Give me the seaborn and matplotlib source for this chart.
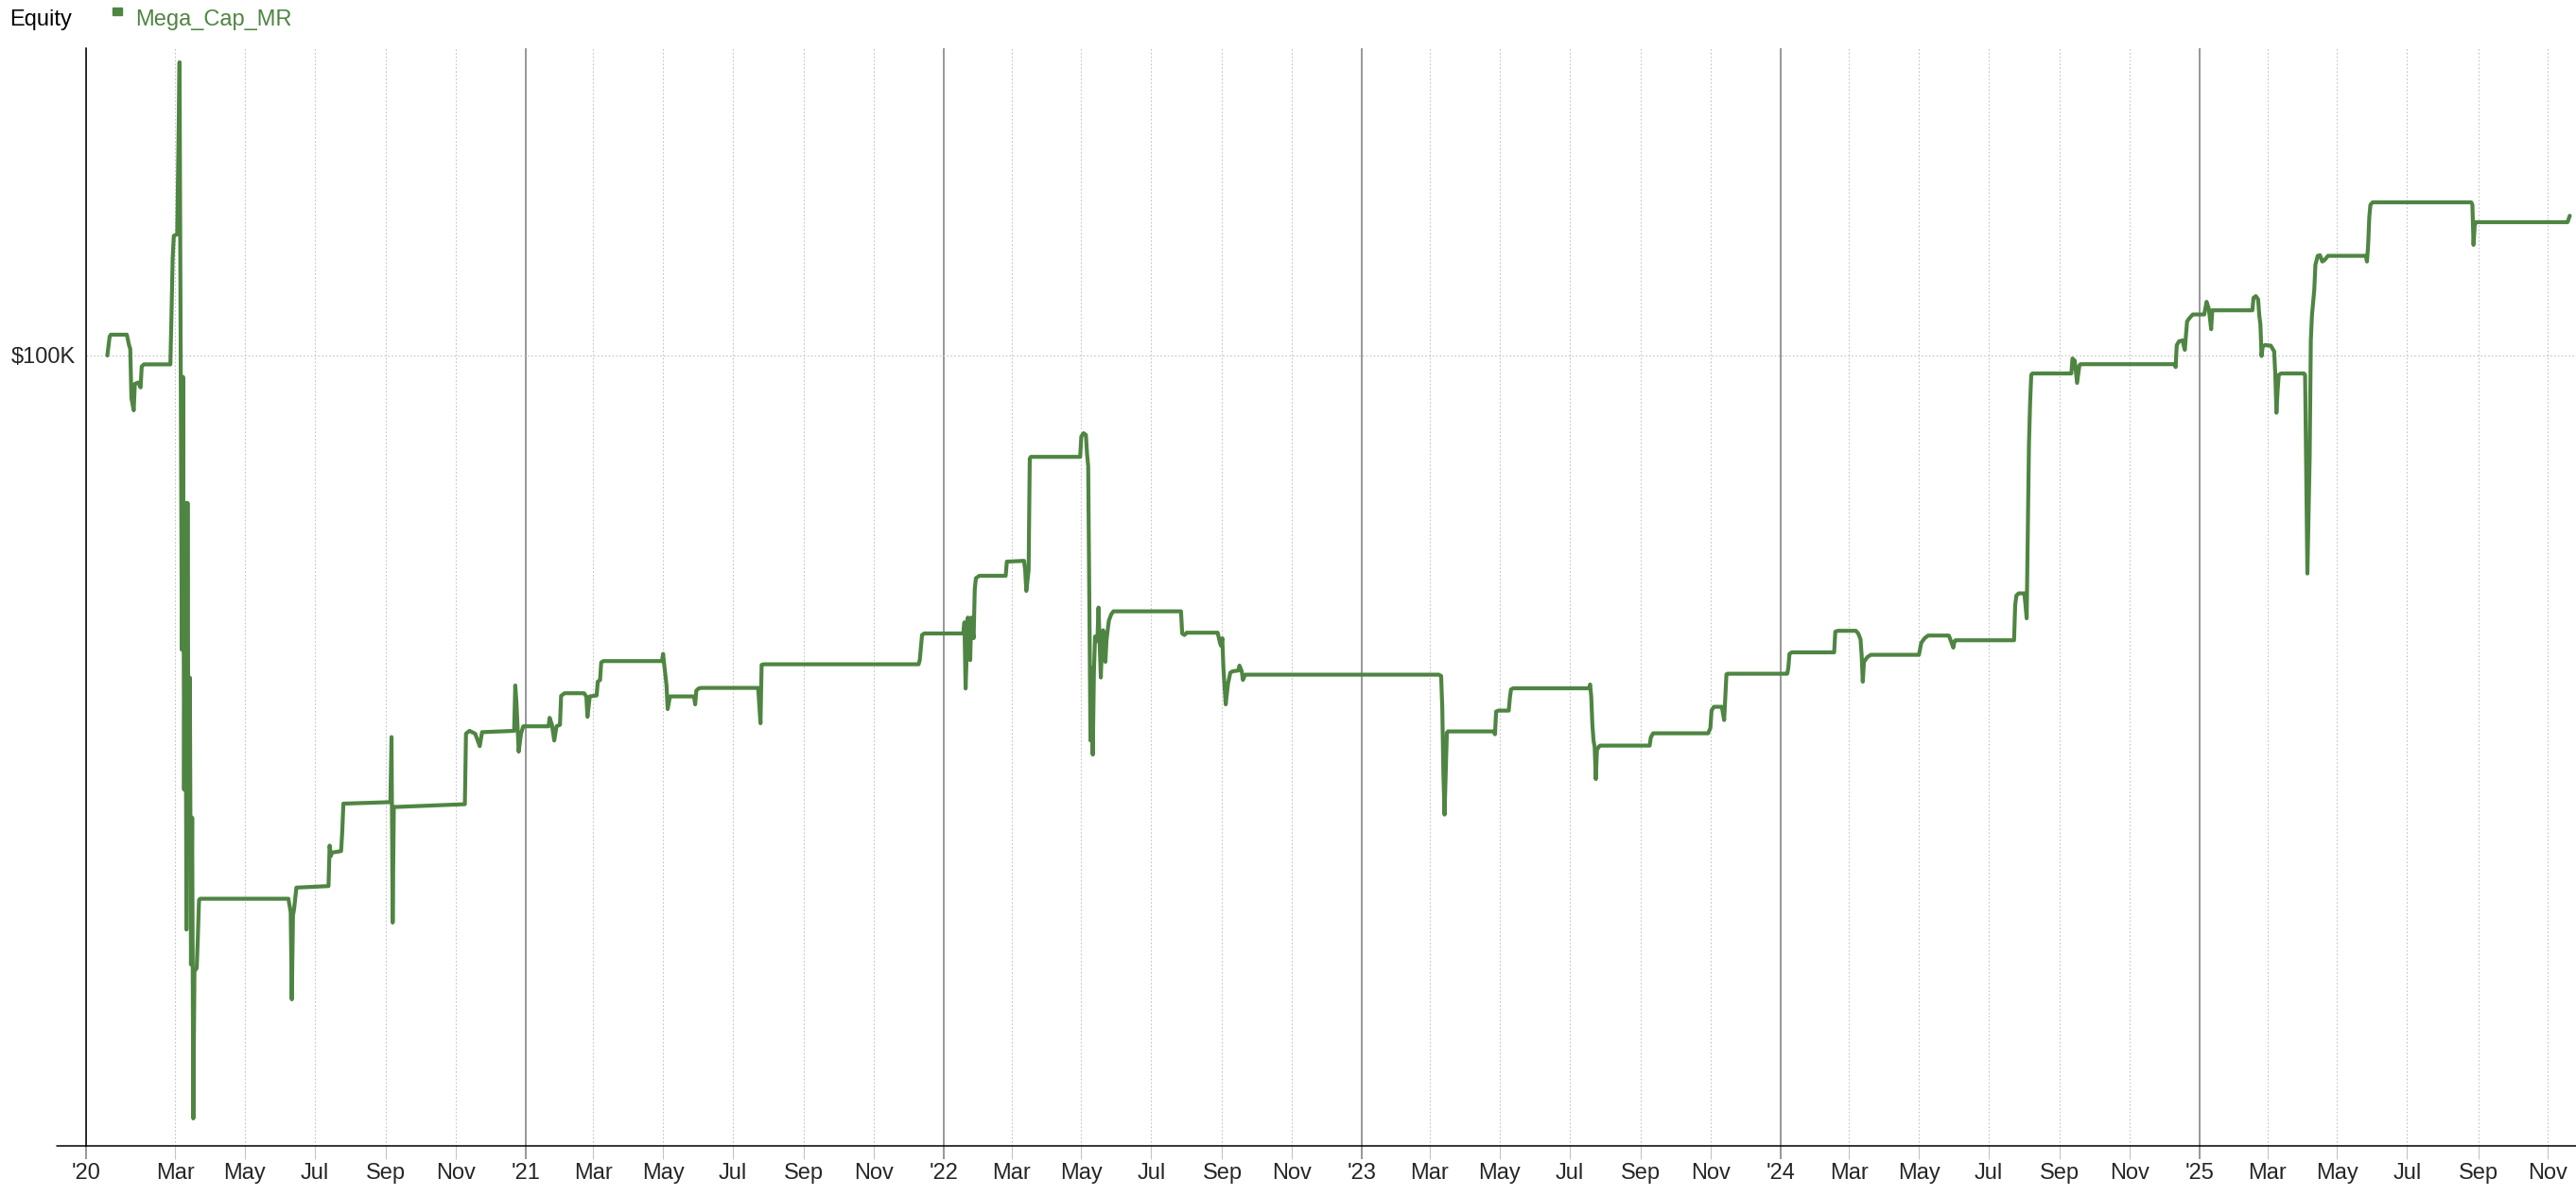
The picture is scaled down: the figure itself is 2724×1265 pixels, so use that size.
import numpy as np
import pandas as pd
import matplotlib
matplotlib.use("Agg")
import matplotlib.pyplot as plt
import matplotlib.dates as mdates
from matplotlib.lines import Line2D
from matplotlib.patches import Rectangle
import seaborn as sns

# Equity curve of the Mega_Cap_MR strategy, one list per year
dates_2020 = ["2020-01-02", "2020-01-04", "2020-01-05", "2020-01-19", "2020-01-21", "2020-01-22",
              "2020-01-23", "2020-01-25", "2020-01-26", "2020-01-29", "2020-01-31", "2020-02-01",
              "2020-02-03", "2020-02-26", "2020-02-27", "2020-02-28", "2020-02-29", "2020-03-03",
              "2020-03-04", "2020-03-05", "2020-03-06", "2020-03-07", "2020-03-08", "2020-03-09",
              "2020-03-10", "2020-03-11", "2020-03-12", "2020-03-13", "2020-03-14", "2020-03-15",
              "2020-03-16", "2020-03-17", "2020-03-18", "2020-03-20", "2020-03-21", "2020-03-22",
              "2020-03-23", "2020-06-08", "2020-06-10", "2020-06-11", "2020-06-12", "2020-06-13",
              "2020-06-15", "2020-07-13", "2020-07-14", "2020-07-15", "2020-07-16", "2020-07-24",
              "2020-07-25", "2020-07-26", "2020-09-05", "2020-09-06", "2020-09-07", "2020-09-08",
              "2020-11-09", "2020-11-10", "2020-11-13", "2020-11-18", "2020-11-22", "2020-11-24",
              "2020-12-22", "2020-12-23", "2020-12-24", "2020-12-26", "2020-12-28", "2020-12-30"]
equity_2020 = [100000, 101000, 101100, 101100, 100530, 100350,
               97750, 97100, 98500, 98570, 98310, 99420,
               99530, 99530, 102200, 105150, 106330, 106410,
               110890, 115510, 99980, 84440, 98870, 77040,
               92200, 69640, 92200, 73710, 82960, 67790,
               75560, 59650, 67420, 67610, 69270, 71200,
               71270, 71270, 70570, 65950, 70380, 70750,
               71860, 71940, 74080, 73530, 73710, 73790,
               74820, 76300, 76380, 79820, 70010, 76120,
               76270, 80000, 80150, 80000, 79340, 80080,
               80150, 82550, 81670, 79050, 80000, 80390]

dates_2021 = ["2021-01-21", "2021-01-22", "2021-01-24", "2021-01-26", "2021-01-28", "2021-01-31",
              "2021-02-01", "2021-02-04", "2021-02-21", "2021-02-23", "2021-02-24", "2021-02-26",
              "2021-03-04", "2021-03-05", "2021-03-07", "2021-03-08", "2021-03-10", "2021-04-30",
              "2021-05-01", "2021-05-02", "2021-05-04", "2021-05-05", "2021-05-07", "2021-05-28",
              "2021-05-29", "2021-05-30", "2021-06-01", "2021-06-03", "2021-07-23", "2021-07-24",
              "2021-07-25", "2021-07-26", "2021-07-28", "2021-12-10", "2021-12-11", "2021-12-13",
              "2021-12-15"]
equity_2021 = [80390, 80840, 80470, 79640, 80390, 80470,
               82000, 82140, 82140, 81970, 80890, 81970,
               82020, 82750, 82840, 83770, 83840, 83840,
               84220, 83640, 82550, 81300, 81970, 81970,
               81550, 82270, 82390, 82420, 82420, 81470,
               80550, 83640, 83670, 83670, 83890, 85220,
               85300]

dates_2022 = ["2022-01-18", "2022-01-19", "2022-01-20", "2022-01-22", "2022-01-24", "2022-01-25",
              "2022-01-27", "2022-01-28", "2022-01-29", "2022-02-01", "2022-02-24", "2022-02-25",
              "2022-03-12", "2022-03-13", "2022-03-14", "2022-03-16", "2022-03-17", "2022-03-18",
              "2022-04-30", "2022-05-01", "2022-05-03", "2022-05-05", "2022-05-06", "2022-05-07",
              "2022-05-08", "2022-05-09", "2022-05-10", "2022-05-11", "2022-05-12", "2022-05-13",
              "2022-05-15", "2022-05-16", "2022-05-18", "2022-05-19", "2022-05-20", "2022-05-22",
              "2022-05-23", "2022-05-25", "2022-05-27", "2022-05-29", "2022-07-27", "2022-07-28",
              "2022-07-30", "2022-08-01", "2022-08-28", "2022-08-30", "2022-08-31", "2022-09-01",
              "2022-09-02", "2022-09-04", "2022-09-06", "2022-09-08", "2022-09-10", "2022-09-15",
              "2022-09-16", "2022-09-18", "2022-09-19", "2022-09-21"]
equity_2022 = [85300, 85890, 82390, 86140, 83890, 86140,
               85050, 87640, 88220, 88350, 88350, 89100,
               89140, 88640, 87550, 88640, 94550, 94640,
               94640, 95720, 95890, 95800, 94800, 94140,
               86890, 79640, 83470, 78890, 83300, 85140,
               84890, 86670, 82970, 84640, 85470, 83800,
               84970, 85970, 86300, 86470, 86470, 85300,
               85220, 85340, 85340, 84800, 84640, 85050,
               83470, 81550, 82640, 83220, 83300, 83340,
               83600, 83300, 82840, 83120]

dates_2023 = ["2023-03-09", "2023-03-11", "2023-03-12", "2023-03-13", "2023-03-14", "2023-03-15",
              "2023-03-16", "2023-03-17", "2023-04-26", "2023-04-27", "2023-04-28", "2023-04-30",
              "2023-05-09", "2023-05-10", "2023-05-11", "2023-05-13", "2023-07-18", "2023-07-19",
              "2023-07-20", "2023-07-21", "2023-07-22", "2023-07-23", "2023-07-24", "2023-07-25",
              "2023-07-27", "2023-07-28", "2023-09-09", "2023-09-10", "2023-09-12", "2023-10-30",
              "2023-11-01", "2023-11-02", "2023-11-04", "2023-11-11", "2023-11-13", "2023-11-14",
              "2023-11-15", "2023-11-16"]
equity_2023 = [83120, 83050, 81390, 77800, 75720, 77970,
               80050, 80120, 80120, 79970, 81170, 81220,
               81220, 81890, 82340, 82400, 82400, 82600,
               81970, 80470, 79640, 79300, 77600, 79140,
               79340, 79370, 79370, 79800, 80020, 80020,
               80300, 81220, 81420, 81420, 80720, 81890,
               83140, 83170]

dates_2024 = ["2024-01-07", "2024-01-08", "2024-01-09", "2024-01-11", "2024-02-17", "2024-02-18",
              "2024-02-20", "2024-03-07", "2024-03-09", "2024-03-11", "2024-03-12", "2024-03-13",
              "2024-03-14", "2024-03-17", "2024-03-20", "2024-05-01", "2024-05-03", "2024-05-06",
              "2024-05-09", "2024-05-27", "2024-05-28", "2024-05-31", "2024-06-01", "2024-06-02",
              "2024-07-23", "2024-07-24", "2024-07-25", "2024-07-27", "2024-08-01", "2024-08-02",
              "2024-08-03", "2024-08-04", "2024-08-05", "2024-08-06", "2024-08-07", "2024-08-08",
              "2024-09-11", "2024-09-12", "2024-09-14", "2024-09-15", "2024-09-16", "2024-09-18",
              "2024-09-19", "2024-12-10", "2024-12-11", "2024-12-12", "2024-12-14", "2024-12-17",
              "2024-12-19", "2024-12-21", "2024-12-23", "2024-12-26"]
equity_2024 = [83170, 83470, 84220, 84300, 84300, 85390,
               85440, 85440, 85300, 85000, 84140, 82750,
               83800, 84050, 84170, 84170, 84800, 85050,
               85190, 85190, 85050, 84550, 84890, 84940,
               84940, 86800, 87300, 87420, 87420, 86800,
               86100, 90800, 95300, 97470, 98970, 99050,
               99050, 99840, 99720, 99140, 98550, 99470,
               99540, 99540, 99390, 100550, 100750, 100800,
               100300, 101800, 101970, 102170]

dates_2025 = ["2025-01-05", "2025-01-07", "2025-01-09", "2025-01-11", "2025-01-12", "2025-02-16",
              "2025-02-17", "2025-02-19", "2025-02-21", "2025-02-22", "2025-02-23", "2025-02-24",
              "2025-02-25", "2025-02-27", "2025-03-04", "2025-03-07", "2025-03-08", "2025-03-09",
              "2025-03-10", "2025-03-11", "2025-03-13", "2025-04-02", "2025-04-03", "2025-04-04",
              "2025-04-05", "2025-04-06", "2025-04-07", "2025-04-08", "2025-04-09", "2025-04-11",
              "2025-04-12", "2025-04-14", "2025-04-16", "2025-04-18", "2025-04-20", "2025-04-23",
              "2025-05-26", "2025-05-27", "2025-05-28", "2025-05-29", "2025-05-30", "2025-06-01",
              "2025-08-26", "2025-08-27", "2025-08-28", "2025-08-29", "2025-08-30", "2025-11-18",
              "2025-11-20"]
equity_2025 = [102170, 102840, 102470, 101390, 102390, 102390,
               103050, 103140, 102970, 102140, 101640, 99970,
               100470, 100550, 100520, 100220, 98970, 96970,
               98140, 98970, 99050, 99050, 98970, 93800,
               88470, 91640, 94640, 100800, 102140, 103470,
               104800, 105270, 105300, 104970, 105050, 105270,
               105270, 104970, 105800, 107300, 107970, 108100,
               108100, 107970, 105850, 106890, 107050, 107050,
               107390]

# Axis ticks and labels
year_ticks = ["2021-01-01", "2022-01-01", "2023-01-01", "2024-01-01", "2025-01-01"]
year_labels = ["'20", "'21", "'22", "'23", "'24", "'25"]
month_names = ["Mar", "May", "Jul", "Sep", "Nov"]
month_numbers = [3, 5, 7, 9, 11]
chart_years = [2020, 2021, 2022, 2023, 2024, 2025]
y_ticks = [100000]
y_labels = ["$100K"]
x_range = ["2019-12-14 10:00", "2025-11-25 10:00"]
y_range = [58200, 116250]

GREEN = "#4F8542"

df = pd.DataFrame({
    "date": pd.to_datetime(dates_2020 + dates_2021 + dates_2022 + dates_2023 + dates_2024 + dates_2025),
    "equity": equity_2020 + equity_2021 + equity_2022 + equity_2023 + equity_2024 + equity_2025,
})

sns.set_style("white")
plt.rcParams["font.family"] = ["Liberation Sans", "DejaVu Sans"]

W, H = 2724, 1265
fig = plt.figure(figsize=(W / 100, H / 100), dpi=100)
ax_left, ax_top, ax_bottom = 91, 51, 1212
ax = fig.add_axes([ax_left / W, 1 - ax_bottom / H, 1 - ax_left / W, (ax_bottom - ax_top) / H])

sns.lineplot(data=df, x="date", y="equity", ax=ax, color=GREEN, linewidth=3.0,
             estimator=None, sort=False, legend=False, zorder=5)

ax.set_xlim(pd.Timestamp(x_range[0]), pd.Timestamp(x_range[1]))
ax.set_ylim(*y_range)

# major ticks: years ('20 sits on the left edge), minor ticks: every other month
major_pos = [mdates.date2num(pd.Timestamp(x_range[0]))] + [mdates.date2num(pd.Timestamp(d)) for d in year_ticks]
minor_pos, minor_lab = [], []
for yr in chart_years:
    for m, name in zip(month_numbers, month_names):
        minor_pos.append(mdates.date2num(pd.Timestamp(yr, m, 1)))
        minor_lab.append(name)
ax.set_xticks(major_pos)
ax.set_xticklabels(year_labels)
ax.set_xticks(minor_pos, minor=True)
ax.set_xticklabels(minor_lab, minor=True)

ax.set_yticks(y_ticks)
ax.set_yticklabels(y_labels)

ax.grid(False)
ax.xaxis.grid(True, which="major", color="#7a7a7a", linewidth=1.1, linestyle="-")
ax.xaxis.grid(True, which="minor", color="#c4c4c4", linewidth=0.8, linestyle=(0, (1.5, 2)))
ax.yaxis.grid(True, which="major", color="#c4c4c4", linewidth=0.8, linestyle=(0, (1.5, 2)))

ax.tick_params(axis="x", which="major", direction="out", length=10, width=1.1, color="#7a7a7a",
               labelsize=17, pad=3, bottom=True)
ax.tick_params(axis="x", which="minor", direction="out", length=10, width=0.8, color="#c4c4c4",
               labelsize=17, pad=3, bottom=True)
ax.tick_params(axis="y", length=0, labelsize=17, pad=8)

ax.set_xlabel("")
ax.set_ylabel("")
for side in ["top", "right"]:
    ax.spines[side].set_visible(False)
for side in ["left", "bottom"]:
    ax.spines[side].set_color("black")
    ax.spines[side].set_linewidth(1.1)

# x axis line runs a little to the left of the y axis
yb = 1 - ax_bottom / H
fig.add_artist(Line2D([60 / W, ax_left / W], [yb, yb], color="black", linewidth=1.1,
                      transform=fig.transFigure))

# header: title and legend
fig.text(10 / W, 1 - 27 / H, "Equity", fontsize=17, color="black", va="baseline", ha="left")
fig.add_artist(Rectangle((119 / W, 1 - 16 / H), 10 / W, 8 / H, color=GREEN,
                         transform=fig.transFigure))
fig.text(143 / W, 1 - 27 / H, "Mega_Cap_MR", fontsize=17, color=GREEN, va="baseline", ha="left")

fig.savefig("out.png", dpi=100)
